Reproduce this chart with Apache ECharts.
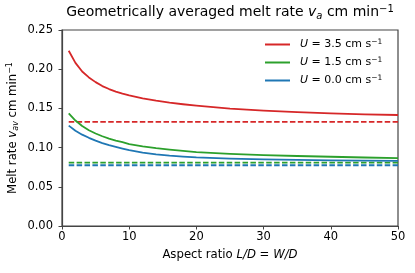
<!DOCTYPE html>
<html>
<head>
<meta charset="utf-8">
<script src="https://cdn.jsdelivr.net/npm/echarts@6/dist/echarts.min.js"></script>
<style>html,body{margin:0;padding:0;background:#fff}#c{width:415px;height:273px}</style>
</head>
<body>
<div id="c"></div>
<script>
const aspect = [1, 2, 3, 4, 5, 6, 7, 8, 9, 10, 12, 14, 16, 18, 20, 25, 30, 35, 40, 45, 50];
const u35 = [0.2236, 0.208, 0.197, 0.1895, 0.1835, 0.1785, 0.1747, 0.1715, 0.1688, 0.1665, 0.1628, 0.1598, 0.1573, 0.1553, 0.1535, 0.1497, 0.1471, 0.1452, 0.1437, 0.1425, 0.1416];
const u15 = [0.1437, 0.1345, 0.1275, 0.1222, 0.118, 0.1145, 0.1115, 0.109, 0.107, 0.1045, 0.1015, 0.0992, 0.0973, 0.0957, 0.0943, 0.092, 0.0904, 0.0893, 0.0883, 0.0874, 0.0866];
const u00 = [0.128, 0.1215, 0.1165, 0.1125, 0.1088, 0.1058, 0.1032, 0.101, 0.0988, 0.0968, 0.0937, 0.0914, 0.0897, 0.0885, 0.0875, 0.086, 0.085, 0.0843, 0.0838, 0.0834, 0.0831];
const ref35 = 0.1327, ref15 = 0.0808, ref00 = 0.0775;
const refX = [1, 50];
const xTicks = [0, 10, 20, 30, 40, 50];
const names = ['U35', 'U15', 'U00'];
const labels = { U35: '3.5', U15: '1.5', U00: '0.0' };
const colors = ['#d62728', '#2ca02c', '#1f77b4'];
const FONT = 'DejaVu Sans';

const zip = (xs, ys) => xs.map((x, i) => [x, ys[i]]);
const flat = (v) => refX.map(x => [x, v]);

const solid = [u35, u15, u00].map((d, i) => ({
  name: names[i], type: 'line', data: zip(aspect, d), smooth: false, showSymbol: false,
  lineStyle: { color: colors[i], width: 1.8, join: 'round', cap: 'butt' }, itemStyle: { color: colors[i] }, z: 3
}));
const dashed = [ref35, ref15, ref00].map((v, i) => ({
  name: names[i] + 'd', type: 'line', data: flat(v), showSymbol: false,
  lineStyle: { color: colors[i], width: 1.8, type: [5.5, 2.4] }, z: 2
}));

const chart = echarts.init(document.getElementById('c'), null, { renderer: 'canvas' });
const axisCol = '#444';
chart.setOption({
  animation: false,
  textStyle: { fontFamily: FONT },
  title: {
    text: 'Geometrically averaged melt rate {i|v}{sub|a} cm min{sup|−1}',
    left: 230, top: 4, textAlign: 'center', padding: 0,
    textStyle: {
      fontFamily: FONT, fontSize: 14, fontWeight: 'normal', color: '#000',
      rich: {
        i: { fontFamily: FONT, fontSize: 14, fontStyle: 'italic', color: '#000' },
        sub: { fontFamily: FONT, fontSize: 10, fontStyle: 'italic', color: '#000', verticalAlign: 'bottom', padding: [7, 0, 0, 0] },
        sup: { fontFamily: FONT, fontSize: 10, color: '#000', verticalAlign: 'top', padding: [0, 0, 7, 0] }
      }
    }
  },
  legend: {
    data: names, orient: 'vertical', left: 265, top: 38, itemGap: 6, padding: 0,
    itemWidth: 25, itemHeight: 2, icon: 'rect',
    formatter: n => '{i|U} = ' + labels[n] + ' cm s{sup|−1}',
    textStyle: {
      fontFamily: FONT, fontSize: 11, color: '#000', padding: [0, 0, 0, 5],
      rich: {
        i: { fontFamily: FONT, fontSize: 11, fontStyle: 'italic', color: '#000' },
        sup: { fontFamily: FONT, fontSize: 7.5, color: '#000', verticalAlign: 'top', padding: [0, 0, 5, 0] }
      }
    }
  },
  grid: { left: 62, right: 17, top: 30, bottom: 47, show: true, borderColor: axisCol, borderWidth: 1.2, containLabel: false, outerBoundsMode: 'none' },
  xAxis: {
    type: 'value', min: 0, max: 50, interval: 10,
    name: 'Aspect ratio {i|L/D} = {i|W/D}', nameLocation: 'middle', nameGap: 23, nameMoveOverlap: false,
    nameTextStyle: { fontFamily: FONT, fontSize: 11.7, color: '#000', rich: { i: { fontFamily: FONT, fontSize: 11.7, fontStyle: 'italic', color: '#000' } } },
    axisLine: { show: true, lineStyle: { color: axisCol, width: 1.2 } },
    axisTick: { show: true, length: 3.5, lineStyle: { color: axisCol } },
    axisLabel: { fontFamily: FONT, fontSize: 11.5, color: '#000', margin: 5, formatter: v => xTicks.includes(v) ? String(v) : '' },
    splitLine: { show: false }
  },
  yAxis: {
    type: 'value', min: 0, max: 0.25, interval: 0.05,
    name: 'Melt rate {i|v}{sub|av} cm min{sup|−1}', nameLocation: 'middle', nameGap: 42, nameRotate: 90, nameMoveOverlap: false,
    nameTextStyle: {
      fontFamily: FONT, fontSize: 11.7, color: '#000',
      rich: {
        i: { fontFamily: FONT, fontSize: 11.7, fontStyle: 'italic', color: '#000' },
        sub: { fontFamily: FONT, fontSize: 8, fontStyle: 'italic', color: '#000', verticalAlign: 'bottom', padding: [6, 0, 0, 0] },
        sup: { fontFamily: FONT, fontSize: 8, color: '#000', verticalAlign: 'top', padding: [0, 0, 6, 0] }
      }
    },
    axisLine: { show: true, lineStyle: { color: axisCol, width: 1.2 } },
    axisTick: { show: true, length: 3.5, lineStyle: { color: axisCol } },
    axisLabel: { fontFamily: FONT, fontSize: 11.5, color: '#000', margin: 9, formatter: v => v.toFixed(2) },
    splitLine: { show: false }
  },
  series: [...dashed, ...solid]
});
</script>
</body>
</html>
